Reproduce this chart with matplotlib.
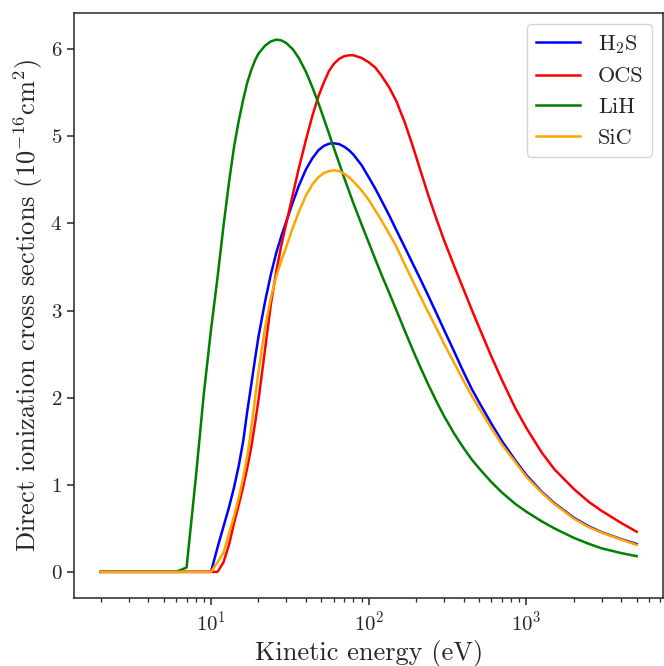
import matplotlib
matplotlib.use("Agg")
import matplotlib.pyplot as plt

plt.rcParams.update({
    "font.family": "serif",
    "font.serif": ["cmr10"],
    "mathtext.fontset": "cm",
    "axes.formatter.use_mathtext": True,
    "axes.unicode_minus": False,
    "text.color": "#262626",
    "axes.labelcolor": "#262626",
    "xtick.color": "#262626",
    "ytick.color": "#262626",
    "axes.edgecolor": "#262626",
})

energy = [2, 3, 4, 5, 6, 7, 8, 9, 10, 11, 12, 13, 14, 15, 16, 17, 18, 19, 20,
          22, 24, 26, 28, 30, 33, 36, 40, 44, 48, 52, 56, 60, 65, 70, 75, 80, 90, 100,
          110, 120, 135, 150, 170, 190, 210, 240, 270, 300, 350, 400, 450, 500, 600,
          700, 850, 1000, 1250, 1500, 2000, 2500, 3000, 4000, 5000]

h2s = [0, 0, 0, 0, 0, 0, 0, 0, 0, 0.28, 0.52, 0.74, 0.97, 1.22, 1.50, 1.85, 2.15, 2.44, 2.70,
       3.10, 3.42, 3.67, 3.86, 4.02, 4.24, 4.43, 4.62, 4.75, 4.84, 4.89, 4.915, 4.92,
       4.91, 4.88, 4.84, 4.79, 4.67, 4.53,
       4.40, 4.27, 4.09, 3.92, 3.72, 3.54, 3.38, 3.16, 2.96, 2.78,
       2.52, 2.29, 2.10, 1.95, 1.70, 1.50, 1.28, 1.11,
       0.92, 0.79, 0.62, 0.52, 0.455, 0.375, 0.32]

ocs = [0, 0, 0, 0, 0, 0, 0, 0, 0, 0, 0.11, 0.31, 0.56, 0.77, 0.98, 1.20, 1.43, 1.70, 1.97,
       2.55, 3.08, 3.46, 3.76, 4.00, 4.33, 4.63, 4.96, 5.24, 5.46, 5.62, 5.75, 5.83,
       5.89, 5.92, 5.93, 5.93, 5.90, 5.85,
       5.79, 5.70, 5.56, 5.40, 5.15, 4.89, 4.64, 4.31, 4.04, 3.81,
       3.50, 3.24, 3.01, 2.81, 2.47, 2.20, 1.88, 1.65,
       1.37, 1.18, 0.95, 0.80, 0.70, 0.56, 0.46]

lih = [0, 0, 0, 0, 0, 0.05, 1.07, 2.04, 2.78, 3.38, 3.97, 4.47, 4.88, 5.18, 5.42, 5.62, 5.76, 5.87, 5.95,
       6.04, 6.09, 6.11, 6.10, 6.07, 6.00, 5.90, 5.74, 5.56, 5.38, 5.20, 5.03, 4.87,
       4.69, 4.52, 4.37, 4.23, 3.99, 3.78,
       3.59, 3.42, 3.20, 3.00, 2.76, 2.55, 2.37, 2.14, 1.95, 1.79,
       1.58, 1.42, 1.29, 1.19, 1.03, 0.91, 0.78, 0.69,
       0.58, 0.50, 0.39, 0.32, 0.27, 0.215, 0.18]

sic = [0, 0, 0, 0, 0, 0, 0, 0, 0, 0.11, 0.22, 0.44, 0.64, 0.85, 1.08, 1.33, 1.65, 1.98, 2.30,
       2.80, 3.15, 3.40, 3.58, 3.73, 3.95, 4.13, 4.32, 4.45, 4.53, 4.58, 4.60, 4.61,
       4.60, 4.57, 4.53, 4.48, 4.38, 4.27,
       4.15, 4.04, 3.88, 3.73, 3.52, 3.34, 3.18, 2.97, 2.79, 2.62,
       2.39, 2.19, 2.02, 1.88, 1.65, 1.46, 1.26, 1.09,
       0.91, 0.78, 0.61, 0.51, 0.45, 0.37, 0.31]

labels = [r"H$_2$S", "OCS", "LiH", "SiC"]
colors = ["blue", "red", "green", "orange"]

fig = plt.figure(figsize=(6.64, 6.66), dpi=100)
ax = fig.add_axes([0.1114, 0.1014, 0.8878, 0.8791])

for vals, lab, col in zip([h2s, ocs, lih, sic], labels, colors):
    ax.plot(energy, vals, color=col, lw=1.8, label=lab)

ax.set_xscale("log")
ax.set_xlabel("Kinetic energy (eV)", fontsize=19)
ax.set_ylabel(r"Direct ionization cross sections $(10^{-16}\mathrm{cm}^2)$", fontsize=19)
ax.tick_params(axis="both", which="major", labelsize=15, length=5, width=1.1, direction="out")
ax.tick_params(axis="both", which="minor", length=3, width=0.9, direction="out")
for s in ax.spines.values():
    s.set_linewidth(1.1)

leg = ax.legend(loc="upper right", fontsize=16, frameon=True, fancybox=True,
                edgecolor="#cccccc")
leg.get_frame().set_linewidth(1.0)

fig.savefig("out.png", dpi=100)
